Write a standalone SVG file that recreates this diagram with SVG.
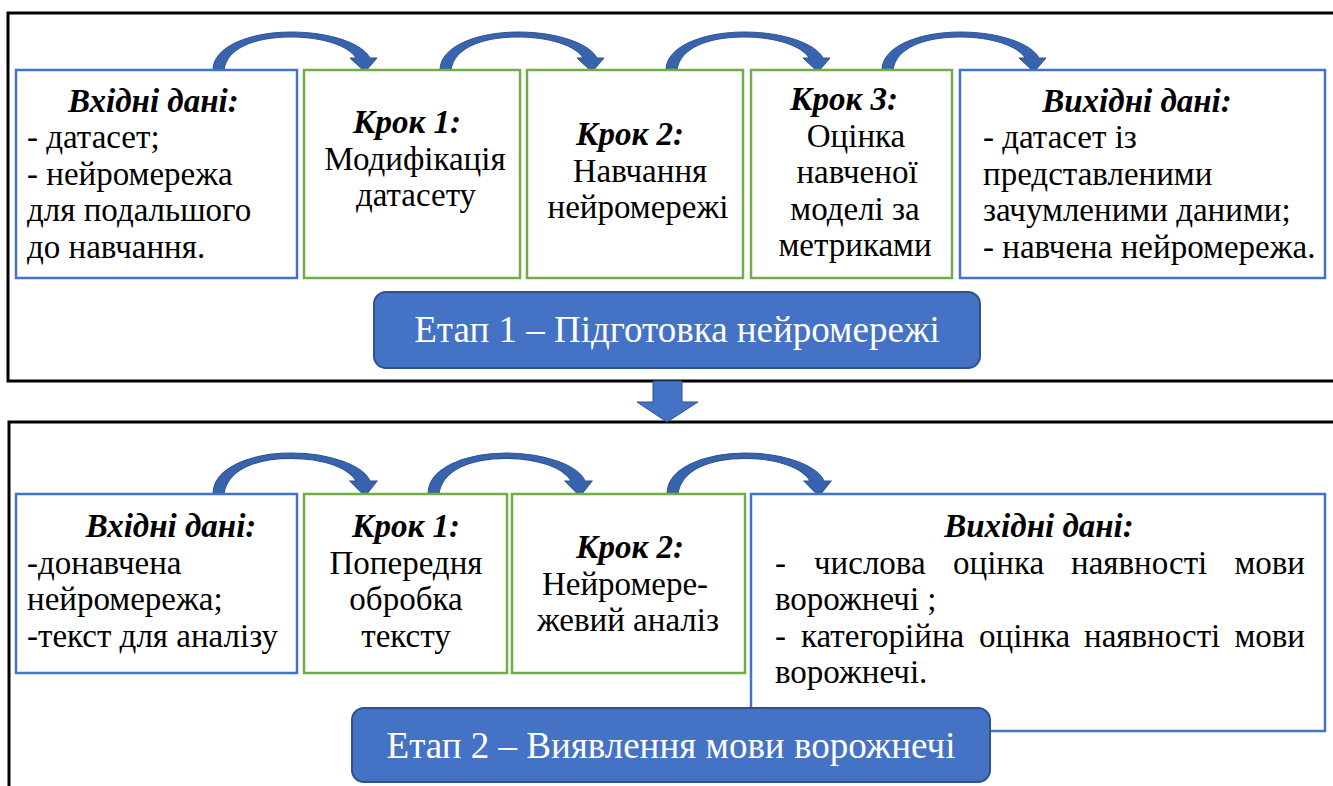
<svg xmlns="http://www.w3.org/2000/svg" xmlns:xlink="http://www.w3.org/1999/xlink" width="1333" height="786" viewBox="0 0 1333 786">
  <style>
    .frame { fill: none; stroke: #000; stroke-width: 3; }
    .io { fill: #fff; stroke: #4472C4; stroke-width: 2.5; }
    .step { fill: #fff; stroke: #70AD47; stroke-width: 2.5; }
    .stage { fill: #4472C4; stroke: #2F528F; stroke-width: 2; }
    .arrow { fill: #3863AE; stroke: #2F528F; stroke-width: 1; }
    text { font-family: "Liberation Serif", "Times New Roman", serif; font-size: 33px; fill: #000; }
    .h { font-weight: bold; font-style: italic; }
    .c { text-anchor: middle; }
    .e { text-anchor: end; }
    .stxt { font-size: 37px; fill: #fff; text-anchor: middle; }
  </style>
  <defs>
    <!-- curved down arrow: tail at (0..11, 0), tip at (152, 2) -->
    <path id="curve" class="arrow" d="M0,0 C0,-24 38,-38 78,-38 C118,-38 150,-26 157,-12 L164,-12 L152,2 L137,-12 L143,-12 C136,-24 110,-33 78,-33 C42,-33 14,-22 11,0 Z"/>
  </defs>

  <!-- stage frames -->
  <g id="frames">
    <path class="frame" d="M1340,13 H8 V381 H1340"/>
    <path class="frame" d="M1340,422 H9 V790"/>
  </g>

  <!-- connectors -->
  <g id="connectors">
    <use xlink:href="#curve" transform="translate(213,70)"/>
    <use xlink:href="#curve" transform="translate(440,70)"/>
    <use xlink:href="#curve" transform="translate(666,70)"/>
    <use xlink:href="#curve" transform="translate(882,70)"/>
    <use xlink:href="#curve" transform="translate(213,494) scale(1,1.08)"/>
    <use xlink:href="#curve" transform="translate(428,494) scale(1,1.08)"/>
    <use xlink:href="#curve" transform="translate(667,494) scale(1,1.08)"/>
    <path class="arrow" d="M653,381 H682 V402 H698 L667,422 L637,402 H653 Z" style="fill:#4472C4"/>
  </g>

  <!-- stage 1 -->
  <g id="s1-input">
    <rect class="io" x="16" y="70" width="281" height="208"/>
    <text class="h" x="68" y="112">Вхідні дані:</text>
    <text x="27" y="148">- датасет;</text>
    <text x="27" y="185">- нейромережа</text>
    <text x="27" y="221">для подальшого</text>
    <text x="27" y="258">до навчання.</text>
  </g>
  <g id="s1-step1">
    <rect class="step" x="304" y="70" width="216" height="208"/>
    <text class="h c" x="407" y="133">Крок 1:</text>
    <text class="c" x="415" y="170">Модифікація</text>
    <text class="c" x="416" y="206">датасету</text>
  </g>
  <g id="s1-step2">
    <rect class="step" x="527" y="70" width="216" height="208"/>
    <text class="h c" x="630" y="145">Крок 2:</text>
    <text class="c" x="640" y="182">Навчання</text>
    <text class="c" x="638" y="218">нейромережі</text>
  </g>
  <g id="s1-step3">
    <rect class="step" x="751" y="70" width="201" height="208"/>
    <text class="h c" x="844" y="110">Крок 3:</text>
    <text class="c" x="856" y="147">Оцінка</text>
    <text class="c" x="857" y="183">навченої</text>
    <text class="c" x="855" y="220">моделі за</text>
    <text class="c" x="855" y="256">метриками</text>
  </g>
  <g id="s1-output">
    <rect class="io" x="960" y="70" width="365" height="208"/>
    <text class="h c" x="1137" y="112">Вихідні дані:</text>
    <text x="983" y="148">- датасет із</text>
    <text x="983" y="185">представленими</text>
    <text x="983" y="221">зачумленими даними;</text>
    <text x="983" y="258">- навчена нейромережа.</text>
  </g>
  <g id="s1-label">
    <rect class="stage" x="374" y="292" width="606" height="76" rx="12"/>
    <text class="stxt" x="677" y="342">Етап 1 – Підготовка нейромережі</text>
  </g>

  <!-- stage 2 -->
  <g id="s2-input">
    <rect class="io" x="16" y="494" width="281" height="179"/>
    <text class="h c" x="171" y="537">Вхідні дані:</text>
    <text x="27" y="574">-донавчена</text>
    <text x="27" y="610">нейромережа;</text>
    <text x="27" y="647">-текст для аналізу</text>
  </g>
  <g id="s2-step1">
    <rect class="step" x="304" y="494" width="203" height="179"/>
    <text class="h c" x="406" y="537">Крок 1:</text>
    <text class="c" x="406" y="574">Попередня</text>
    <text class="c" x="406" y="610">обробка</text>
    <text class="c" x="406" y="647">тексту</text>
  </g>
  <g id="s2-step2">
    <rect class="step" x="512" y="494" width="233" height="179"/>
    <text class="h c" x="630" y="558">Крок 2:</text>
    <text class="c" x="625" y="595">Нейромере-</text>
    <text class="c" x="628" y="631">жевий аналіз</text>
  </g>
  <g id="s2-output">
    <rect class="io" x="751" y="494" width="574" height="237"/>
    <text class="h c" x="1039" y="537">Вихідні дані:</text>
    <!-- justified lines: words placed one by one -->
    <text x="775" y="574">-</text>
    <text x="814" y="574">числова</text>
    <text x="953" y="574">оцінка</text>
    <text x="1071" y="574">наявності</text>
    <text class="e" x="1305" y="574">мови</text>
    <text x="775" y="610">ворожнечі ;</text>
    <text x="775" y="647">-</text>
    <text x="801" y="647">категорійна</text>
    <text x="979" y="647">оцінка</text>
    <text x="1084" y="647">наявності</text>
    <text class="e" x="1305" y="647">мови</text>
    <text x="775" y="683">ворожнечі.</text>
  </g>
  <g id="s2-label">
    <rect class="stage" x="352" y="708" width="638" height="74" rx="12"/>
    <text class="stxt" x="671" y="758">Етап 2 – Виявлення мови ворожнечі</text>
  </g>
</svg>
